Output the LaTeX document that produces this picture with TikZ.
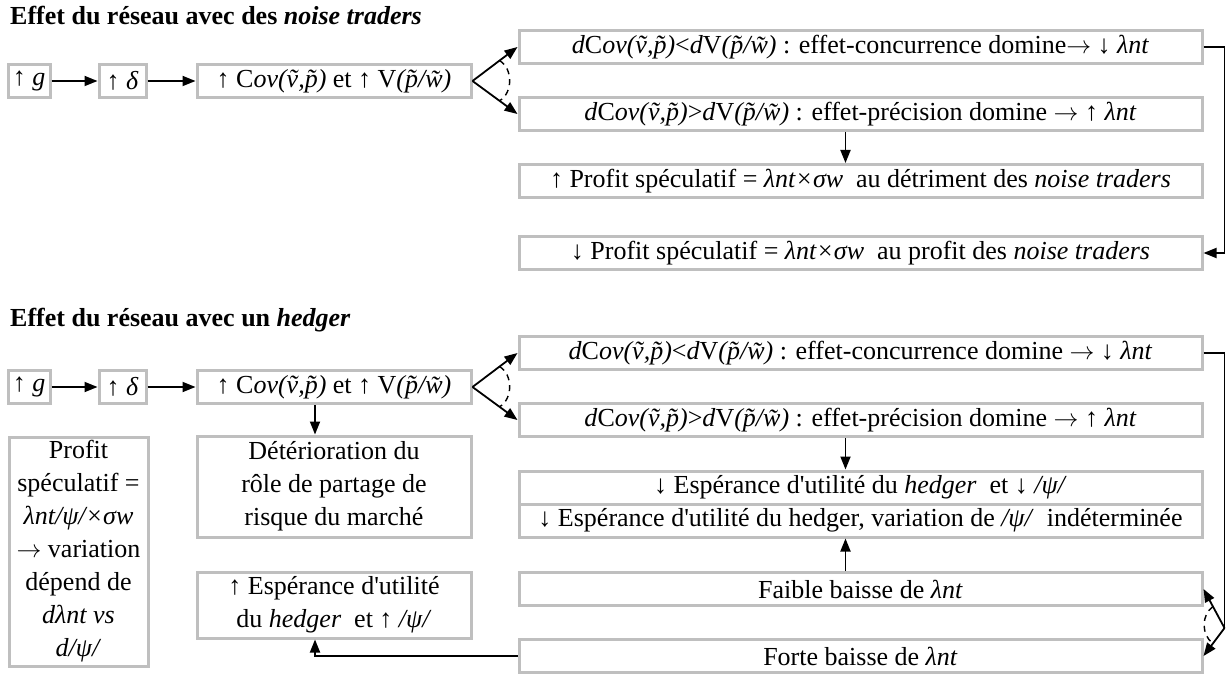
\documentclass[tikz,border=0pt]{standalone}
\usepackage{fontspec}
\setmainfont{Liberation Serif}[Ligatures=TeXOff]
\usetikzlibrary{arrows.meta,calc}

\newlength{\du}
\setlength{\du}{1pt}

\newcommand{\CovVP}{C\textit{ov(ṽ,p̃)}}
\newcommand{\VarPW}{V\textit{(p̃/w̃)}}
\newcommand{\lnt}{\textit{λnt}}
\newcommand{\psia}{\textit{/ψ/}}
\newcommand{\vers}{$\rightarrow$}

\tikzset{
boite/.style={draw=bordcolor, line width=3.000000\du, fill=white, inner sep=0pt, align=center, font=\fontsize{26}{33}\selectfont},
ligne/.style={boite, minimum width=683.000000\du, minimum height=33.000000\du},
titre/.style={anchor=base west, inner sep=0pt, font=\fontsize{26}{33}\selectfont\bfseries},
fleche/.style={-{Triangle[length=13pt,width=10pt]}, line width=1.800000\du},
pointille/.style={dash pattern=on 6pt off 5pt, line width=1.400000\du},
}

\begin{document}
\begin{tikzpicture}
\pgftransformxscale{1.000000}
\pgftransformyscale{-1.000000}
\definecolor{bordcolor}{rgb}{0.749020, 0.749020, 0.749020}
\definecolor{dialinecolor}{rgb}{0.000000, 0.000000, 0.000000}
\useasboundingbox (0\du,0\du) rectangle (1227\du,674\du);
% noise traders
\node[titre] (titre1) at (10.000000\du,25.000000\du){Effet du réseau avec des \textit{noise traders}};
\node[boite, minimum width=42\du, minimum height=33\du] (g1) at (29.000000\du,81.000000\du){↑ \textit{g}};
\node[boite, minimum width=47\du, minimum height=33\du] (d1) at (122.500000\du,81.000000\du){↑ \textit{δ}};
\node[boite, minimum width=274\du, minimum height=33\du] (cov1) at (334.000000\du,81.000000\du){↑ \CovVP{} et ↑ \VarPW};
\node[ligne] (concu1) at (860.500000\du,47.000000\du){\textit{d}\CovVP<\textit{d}\VarPW{} : effet-concurrence domine\vers{} ↓ \lnt};
\node[ligne] (preci1) at (860.500000\du,114.000000\du){\textit{d}\CovVP>\textit{d}\VarPW{} : effet-précision domine \vers{} ↑ \lnt};
\node[ligne] (profitplus) at (860.500000\du,181.000000\du){↑ Profit spéculatif = \textit{λnt×σw}~ au détriment des \textit{noise traders}};
\node[ligne] (profitmoins) at (860.500000\du,253.000000\du){↓ Profit spéculatif = \textit{λnt×σw}~ au profit des \textit{noise traders}};
\draw[fleche] (g1) -- (d1);
\draw[fleche] (d1) -- (cov1);
\draw[fleche] (cov1.east) -- (concu1.west);
\draw[fleche] (cov1.east) -- (preci1.west);
\coordinate (a1) at ($(cov1.east)!0.6!(concu1.west)$);
\coordinate (b1) at ($(cov1.east)!0.6!(preci1.west)$);
\draw[pointille] (a1) to[bend right=60] (b1);
\draw[fleche] ([xshift=-15\du]preci1.south) -- ([xshift=-15\du]profitplus.north);
\draw[fleche] (concu1.east) -- ++(21\du,0) |- (profitmoins.east);
% hedger
\node[titre] (titre2) at (10.000000\du,326.000000\du){Effet du réseau avec un \textit{hedger}};
\node[boite, minimum width=42\du, minimum height=33\du] (g2) at (29.000000\du,387.000000\du){↑ \textit{g}};
\node[boite, minimum width=47\du, minimum height=33\du] (d2) at (122.500000\du,387.000000\du){↑ \textit{δ}};
\node[boite, minimum width=274\du, minimum height=33\du] (cov2) at (334.000000\du,387.000000\du){↑ \CovVP{} et ↑ \VarPW};
\node[ligne] (concu2) at (860.500000\du,353.000000\du){\textit{d}\CovVP<\textit{d}\VarPW{} : effet-concurrence domine \vers{} ↓ \lnt};
\node[ligne] (preci2) at (860.500000\du,420.000000\du){\textit{d}\CovVP>\textit{d}\VarPW{} : effet-précision domine \vers{} ↑ \lnt};
\node[ligne] (esperbas) at (860.500000\du,487.500000\du){↓ Espérance d'utilité du \textit{hedger}~ et ↓ \psia};
\node[ligne] (espermixte) at (860.500000\du,520.500000\du){↓ Espérance d'utilité du hedger, variation de \psia~ indéterminée};
\node[ligne] (faible) at (860.500000\du,589.000000\du){Faible baisse de \lnt};
\node[ligne] (forte) at (860.500000\du,656.000000\du){Forte baisse de \lnt};
\node[boite, minimum width=274\du, minimum height=101\du] (deterio) at (334.000000\du,486.500000\du){Détérioration du\\rôle de partage de\\risque du marché};
\node[boite, minimum width=274\du, minimum height=66\du] (esperhaut) at (334.000000\du,605.000000\du){↑ Espérance d'utilité\\du \textit{hedger}~ et ↑ \psia};
\node[boite, minimum width=139\du, minimum height=229\du] (profit2) at (78.500000\du,551.500000\du){Profit\\spéculatif =\\\textit{λnt/ψ/×σw}\\\vers{} variation\\dépend de\\\textit{dλnt vs}\\\textit{d/ψ/}};
\draw[fleche] (g2) -- (d2);
\draw[fleche] (d2) -- (cov2);
\draw[fleche] (cov2.east) -- (concu2.west);
\draw[fleche] (cov2.east) -- (preci2.west);
\coordinate (a2) at ($(cov2.east)!0.6!(concu2.west)$);
\coordinate (b2) at ($(cov2.east)!0.6!(preci2.west)$);
\draw[pointille] (a2) to[bend right=60] (b2);
\draw[fleche] ([xshift=-19\du]cov2.south) -- ([xshift=-19\du]deterio.north);
\draw[fleche] ([xshift=-15\du]preci2.south) -- ([xshift=-15\du]esperbas.north);
\draw[fleche] ([xshift=-15\du]faible.north) -- ([xshift=-15\du]espermixte.south);
\coordinate (pivot) at ($(concu2.east)+(21\du,275\du)$);
\draw[line width=1.800000\du] (concu2.east) -| (pivot);
\draw[fleche] (pivot) -- (faible.east);
\draw[fleche] (pivot) -- (forte.east);
\coordinate (a3) at ($(pivot)!0.55!(faible.east)$);
\coordinate (b3) at ($(pivot)!0.55!(forte.east)$);
\draw[pointille] (a3) to[bend left=55] (b3);
\draw[fleche] (forte.west) -| ([xshift=-19\du]esperhaut.south);
\end{tikzpicture}
\end{document}
